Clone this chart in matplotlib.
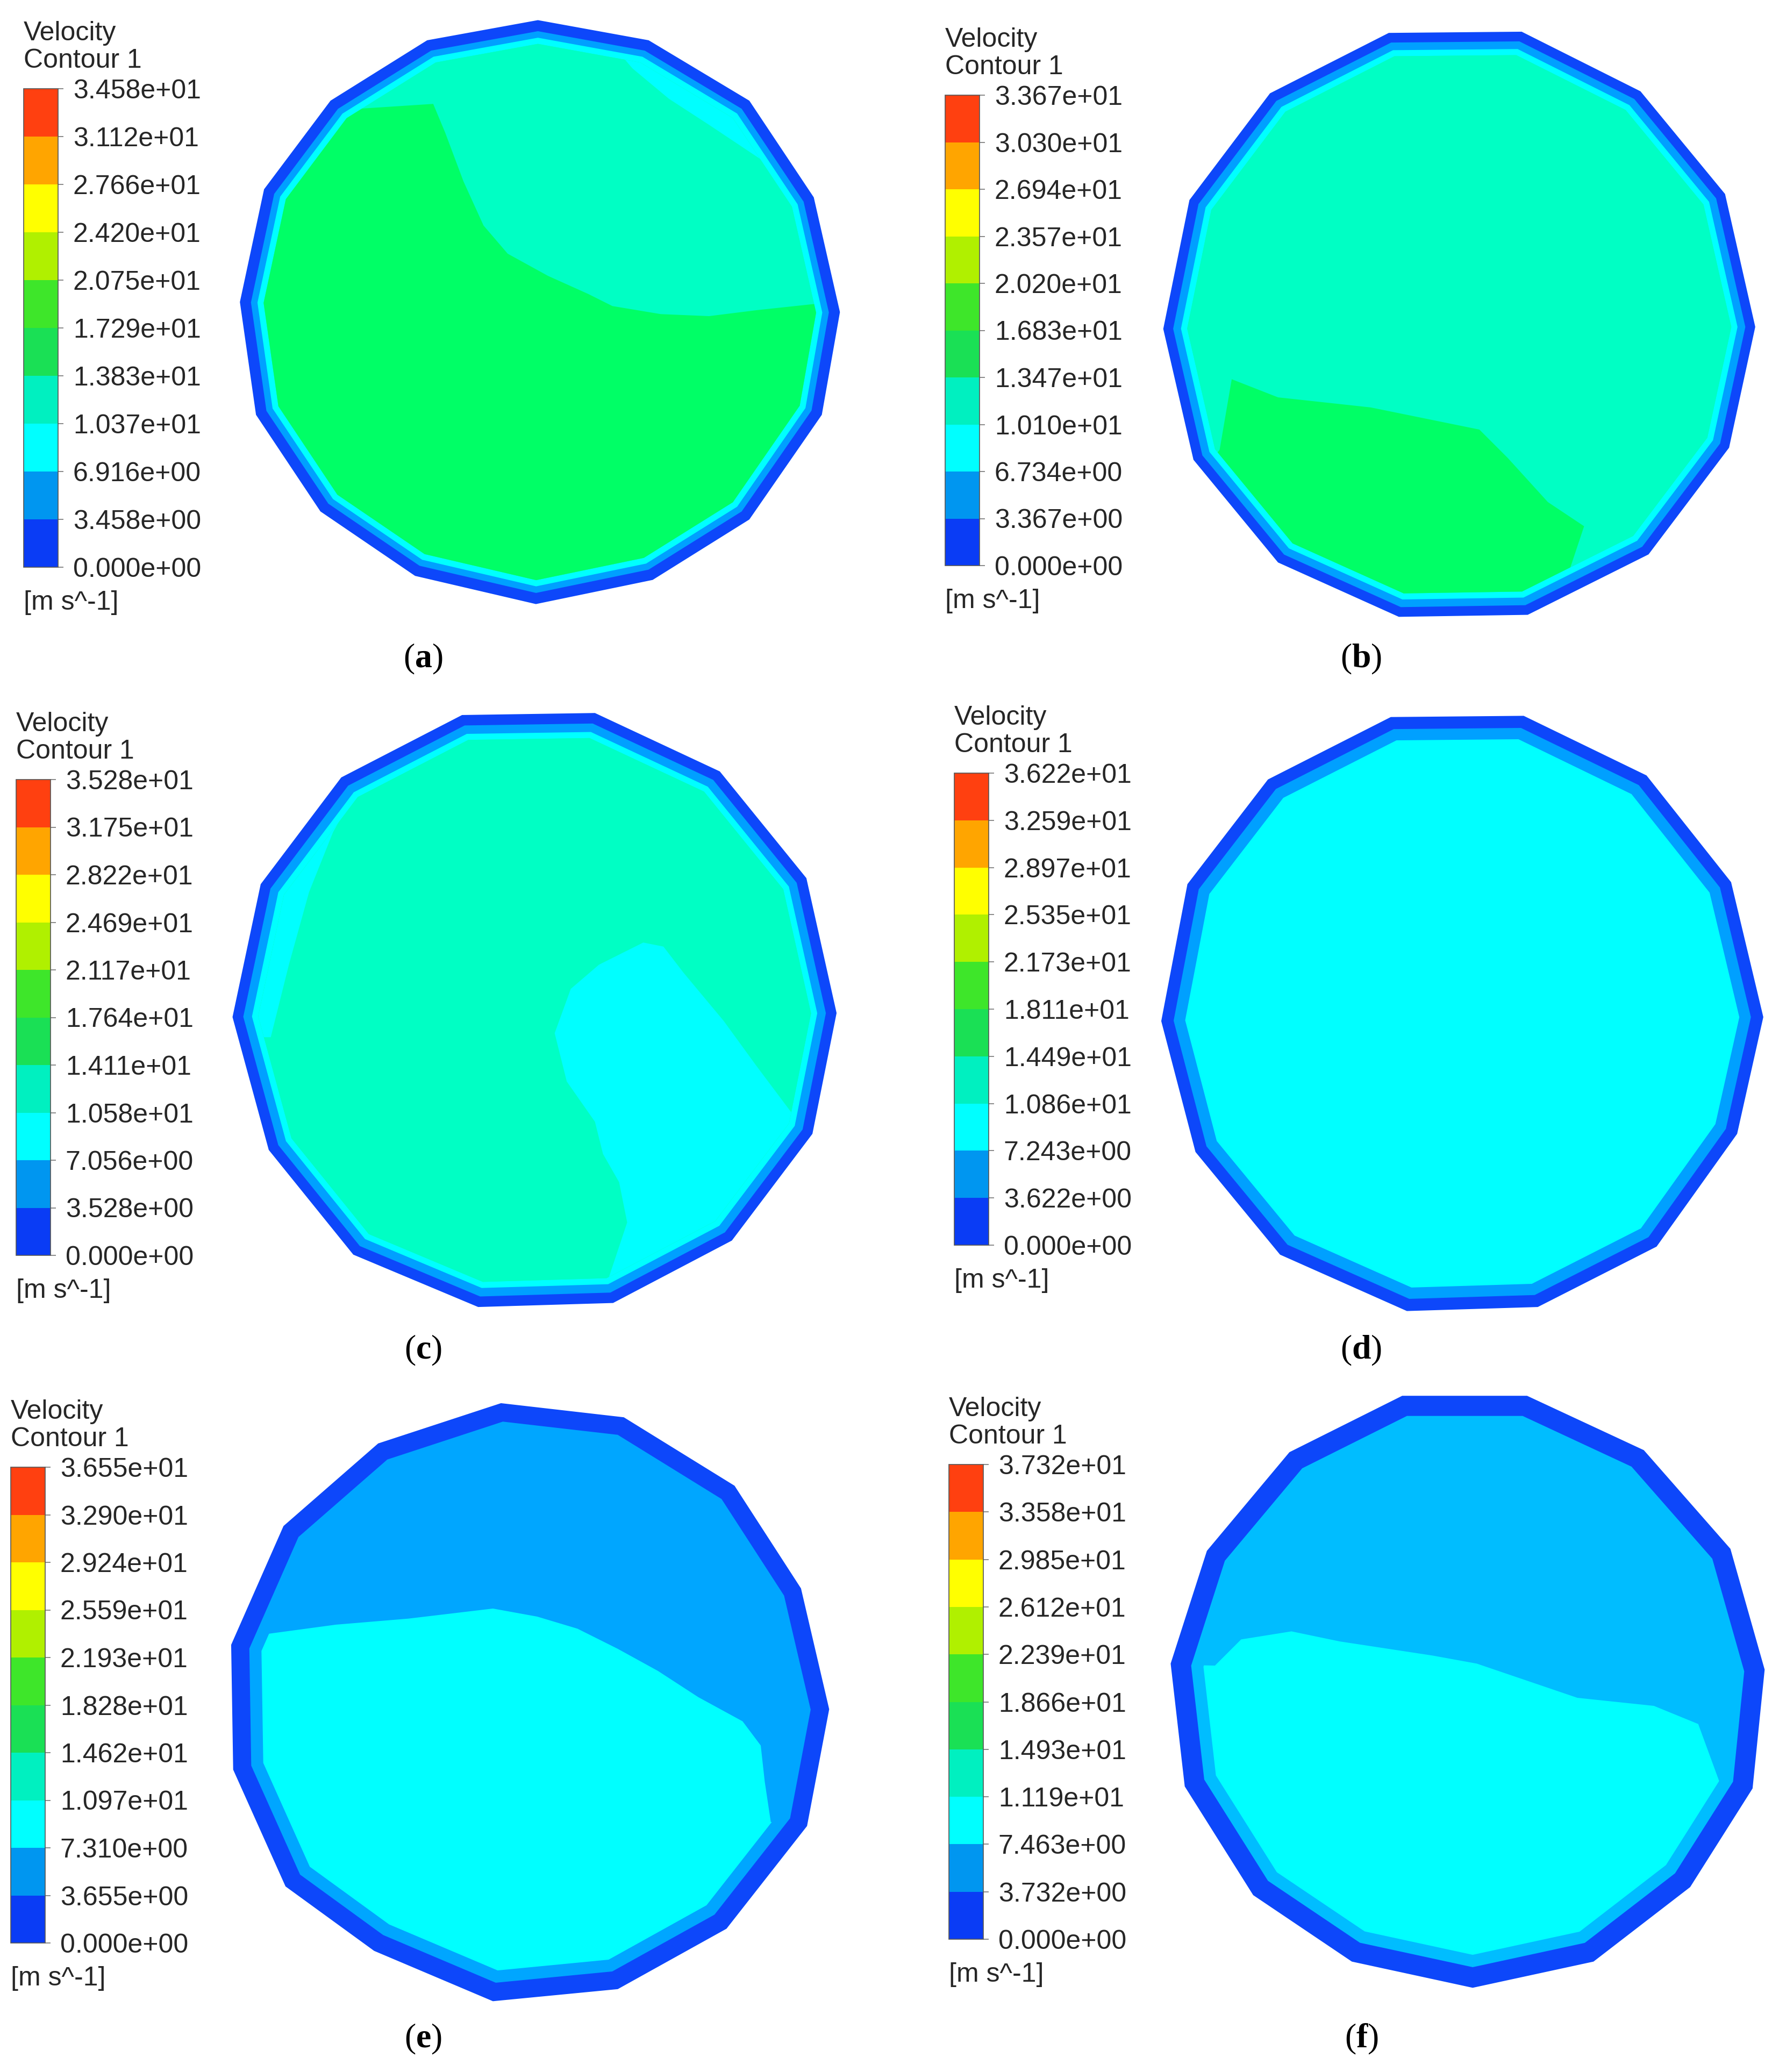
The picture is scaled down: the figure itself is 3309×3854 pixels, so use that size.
import numpy as np
import matplotlib
matplotlib.use("Agg")
import matplotlib.pyplot as plt
from matplotlib.colors import ListedColormap, BoundaryNorm
from matplotlib.cm import ScalarMappable
from matplotlib.patches import Polygon
from matplotlib.ticker import FixedLocator, FixedFormatter

plt.rcParams["font.family"] = ["Liberation Sans", "DejaVu Sans"]
plt.rcParams["mathtext.fontset"] = "custom"
plt.rcParams["mathtext.rm"] = "Liberation Serif"
plt.rcParams["mathtext.bf"] = "Liberation Serif:bold"

# ---------------- data ----------------
PANEL_IDS = ["a", "b", "c", "d", "e", "f"]

# colour-bar levels [m s^-1] as printed on each legend
LEVELS_A = [0.0, 3.458, 6.916, 10.37, 13.83, 17.29, 20.75, 24.20, 27.66, 31.12, 34.58]
LEVELS_B = [0.0, 3.367, 6.734, 10.10, 13.47, 16.83, 20.20, 23.57, 26.94, 30.30, 33.67]
LEVELS_C = [0.0, 3.528, 7.056, 10.58, 14.11, 17.64, 21.17, 24.69, 28.22, 31.75, 35.28]
LEVELS_D = [0.0, 3.622, 7.243, 10.86, 14.49, 18.11, 21.73, 25.35, 28.97, 32.59, 36.22]
LEVELS_E = [0.0, 3.655, 7.310, 10.97, 14.62, 18.28, 21.93, 25.59, 29.24, 32.90, 36.55]
LEVELS_F = [0.0, 3.732, 7.463, 11.19, 14.93, 18.66, 22.39, 26.12, 29.85, 33.58, 37.32]

# cross-section outlines (section units, y downward)
OUTLINE_A = [(775, 50), (1050, 100), (1300, 250), (1460, 490), (1525, 775), (1480, 1030),
             (1300, 1290), (1060, 1440), (770, 1500), (470, 1430), (235, 1270), (75, 1030),
             (35, 750), (95, 470), (260, 250), (500, 100)]
OUTLINE_B = [(605, 55), (935, 52), (1230, 200), (1440, 455), (1515, 785), (1450, 1085),
             (1250, 1350), (950, 1500), (630, 1505), (330, 1370), (120, 1115), (45, 790),
             (110, 470), (310, 205)]
OUTLINE_C = [(600, 40), (930, 35), (1240, 180), (1455, 445), (1530, 780), (1470, 1080),
             (1270, 1345), (975, 1500), (640, 1510), (330, 1380), (120, 1120), (30, 790),
             (100, 460), (300, 195)]
OUTLINE_D = [(610, 45), (940, 42), (1245, 190), (1455, 455), (1535, 790), (1470, 1080),
             (1270, 1360), (975, 1510), (650, 1520), (335, 1380), (125, 1125), (40, 800),
             (105, 460), (305, 200)]
OUTLINE_E = [(710, 40), (1015, 75), (1290, 245), (1455, 500), (1525, 800), (1470, 1090),
             (1270, 1345), (1000, 1495), (690, 1525), (395, 1400), (175, 1240), (45, 950),
             (40, 640), (170, 345), (405, 140)]
OUTLINE_F = [(625, 35), (935, 35), (1225, 170), (1440, 415), (1525, 715), (1495, 1010),
             (1340, 1255), (1100, 1440), (800, 1505), (500, 1440), (255, 1275), (85, 1005),
             (50, 700), (140, 420), (345, 175)]

# wall bands: (band index, depth of inner edge from wall)
WALL_BANDS_A = [(0, 0), (1, 27), (2, 43), (3, 58)]
WALL_BANDS_B = [(0, 0), (1, 24), (2, 43), (3, 58)]
WALL_BANDS_C = [(0, 0), (1, 26), (2, 47), (3, 62)]
WALL_BANDS_D = [(0, 0), (1, 30), (2, 58)]
WALL_BANDS_E = [(0, 0), (1, 45), (1, 75)]
WALL_BANDS_F = [(0, 0), (1, 50), (1, 80)]

# core zones: (band index, boundary)
ZONES_A = [
    (4, [(-50, 290), (300, 272), (515, 258), (545, 330), (590, 450), (640, 560), (700, 630),
         (800, 685), (900, 730), (960, 760), (1080, 780), (1200, 785), (1320, 770),
         (1460, 755), (1600, 755), (1600, 1600), (-50, 1600)]),
    (2, [(950, 100), (1010, 170), (1100, 245), (1200, 310), (1290, 370), (1380, 430),
         (1500, 420), (1500, 100)]),
]
ZONES_B = [
    (4, [(215, 915), (330, 960), (560, 985), (830, 1040), (900, 1110), (1000, 1220),
         (1090, 1280), (1070, 1340), (1050, 1400), (1050, 1600), (100, 1600), (100, 1200),
         (185, 1090)]),
]
ZONES_C = [
    (2, [(830, 830), (870, 720), (940, 660), (1050, 605), (1100, 615), (1150, 680),
         (1250, 800), (1330, 910), (1420, 1030), (1600, 1100), (1600, 1600), (950, 1600),
         (960, 1450), (1010, 1300), (990, 1200), (950, 1130), (930, 1050), (860, 950)]),
    (2, [(345, 215), (280, 330), (220, 480), (170, 660), (125, 840), (0, 840), (0, 215)]),
]
ZONES_D = []
ZONES_E = [
    (2, [(-50, 620), (115, 615), (300, 590), (480, 575), (690, 550), (800, 570), (900, 600),
         (1000, 650), (1100, 705), (1200, 770), (1310, 830), (1355, 890), (1365, 980),
         (1380, 1080), (1600, 1100), (1600, 1600), (-50, 1600)]),
]
ZONES_F = [
    (2, [(-50, 700), (160, 705), (225, 640), (350, 620), (470, 645), (700, 680), (810, 700),
         (1060, 785), (1250, 805), (1360, 850), (1415, 1000), (1600, 1000), (1600, 1600),
         (-50, 1600)]),
]

# ---------------- style ----------------
W, H = 3309, 3854
SEC_SCALE = 1.335  # section units per output pixel

BAR_COLORS = ["#0A3CF5", "#0096F0", "#00FFFF", "#00F0C0", "#1AE055",
              "#3EE62A", "#B0F000", "#FFFF00", "#FFA500", "#FF4010"]
FILL_COLORS = ["#0D47FA", "#00A0FF", "#00FFFF", "#00FFC4", "#00FF66"]
FILL_OVERRIDE = {"e": {1: "#00A6FF"}, "f": {1: "#00BDFF"}}

# crop frames for sections (x, y, w, h) in px
SECTION_BOX = {"a": (420, 0, 1150, 1180), "b": (2130, 20, 1170, 1150),
               "c": (410, 1300, 1160, 1150), "d": (2130, 1300, 1170, 1150),
               "e": (400, 2580, 1150, 1150), "f": (2140, 2570, 1160, 1150)}
# colour bar (left, top, bottom) px
BAR_BOX = {"a": (44, 165, 1055), "b": (1758, 177, 1052), "c": (30, 1450, 2335),
           "d": (1775, 1438, 2316), "e": (20, 2729, 3614), "f": (1765, 2724, 3607)}
CAPTION_POS = {"a": (787, 1226), "b": (2532, 1226), "c": (787, 2512),
               "d": (2532, 2512), "e": (787, 3793), "f": (2532, 3793)}

DATA = {
    "a": (LEVELS_A, OUTLINE_A, WALL_BANDS_A, ZONES_A),
    "b": (LEVELS_B, OUTLINE_B, WALL_BANDS_B, ZONES_B),
    "c": (LEVELS_C, OUTLINE_C, WALL_BANDS_C, ZONES_C),
    "d": (LEVELS_D, OUTLINE_D, WALL_BANDS_D, ZONES_D),
    "e": (LEVELS_E, OUTLINE_E, WALL_BANDS_E, ZONES_E),
    "f": (LEVELS_F, OUTLINE_F, WALL_BANDS_F, ZONES_F),
}

TEXT_COLOR = "#262626"
FS = 36


def inset(verts, d):
    P = np.asarray(verts, float)
    if d == 0:
        return P
    n = len(P)
    x, y = P[:, 0], P[:, 1]
    s = 0.5 * np.sum(x * np.roll(y, -1) - np.roll(x, -1) * y)
    pts, dirs = [], []
    for i in range(n):
        a, b = P[i], P[(i + 1) % n]
        e = (b - a) / np.linalg.norm(b - a)
        nrm = np.array([-e[1], e[0]]) if s > 0 else np.array([e[1], -e[0]])
        pts.append(a + d * nrm)
        dirs.append(e)
    out = []
    for i in range(n):
        A, eA = pts[i - 1], dirs[i - 1]
        B, eB = pts[i], dirs[i]
        M = np.array([eA, -eB]).T
        t, _ = np.linalg.solve(M, B - A)
        out.append(A + t * eA)
    return np.array(out)


def px_rect(x, y, w, h):
    return [x / W, 1 - (y + h) / H, w / W, h / H]


fig = plt.figure(figsize=(W / 100, H / 100), dpi=100)

for pid in PANEL_IDS:
    levels, outline, walls, zones = DATA[pid]
    fills = list(FILL_COLORS)
    for k, v in FILL_OVERRIDE.get(pid, {}).items():
        fills[k] = v

    # ---- section ----
    bx, by, bw, bh = SECTION_BOX[pid]
    ax = fig.add_axes(px_rect(bx, by, bw, bh))
    ax.set_xlim(0, bw * SEC_SCALE)
    ax.set_ylim(bh * SEC_SCALE, 0)
    ax.axis("off")
    last = None
    for band, depth in walls:
        poly = Polygon(inset(outline, depth), closed=True, facecolor=fills[band],
                       edgecolor="none", antialiased=True)
        ax.add_patch(poly)
        last = poly
    core_band = walls[-1][0]
    if pid in ("a", "b", "c"):
        core = Polygon(inset(outline, walls[-1][1]), closed=True,
                       facecolor=fills[3], edgecolor="none")
        ax.add_patch(core)
        last = core
    for band, verts in zones:
        z = Polygon(verts, closed=True, facecolor=fills[band], edgecolor="none")
        ax.add_patch(z)
        z.set_clip_path(last)

    # ---- colour bar ----
    cl, ct, cbm = BAR_BOX[pid]
    cax = fig.add_axes(px_rect(cl, ct, 64, cbm - ct))
    sm = ScalarMappable(norm=BoundaryNorm(levels, 10), cmap=ListedColormap(BAR_COLORS))
    cb = fig.colorbar(sm, cax=cax, ticks=levels)
    cb.outline.set_edgecolor("#555555")
    cb.outline.set_linewidth(1.2)
    cb.ax.yaxis.set_major_locator(FixedLocator(levels))
    cb.ax.yaxis.set_major_formatter(FixedFormatter(["{:.3e}".format(v) for v in levels]))
    cb.ax.minorticks_off()
    cb.ax.tick_params(axis="y", length=7, width=1.2, color="#777777", pad=13,
                      labelsize=FS, labelcolor=TEXT_COLOR)

    fig.text(cl / W, 1 - (ct - 103) / H, "Velocity", fontsize=FS, color=TEXT_COLOR,
             ha="left", va="center")
    fig.text(cl / W, 1 - (ct - 52) / H, "Contour 1", fontsize=FS, color=TEXT_COLOR,
             ha="left", va="center")
    fig.text(cl / W, 1 - (cbm + 66) / H, "[m s^-1]", fontsize=FS, color=TEXT_COLOR,
             ha="left", va="center")

    # ---- caption ----
    cx, cy = CAPTION_POS[pid]
    fig.text(cx / W, 1 - cy / H, r"($\mathbf{" + pid + r"}$)", fontsize=46,
             family="Liberation Serif", color="black", ha="center", va="center")

fig.savefig("out.png", dpi=100, facecolor="white")
